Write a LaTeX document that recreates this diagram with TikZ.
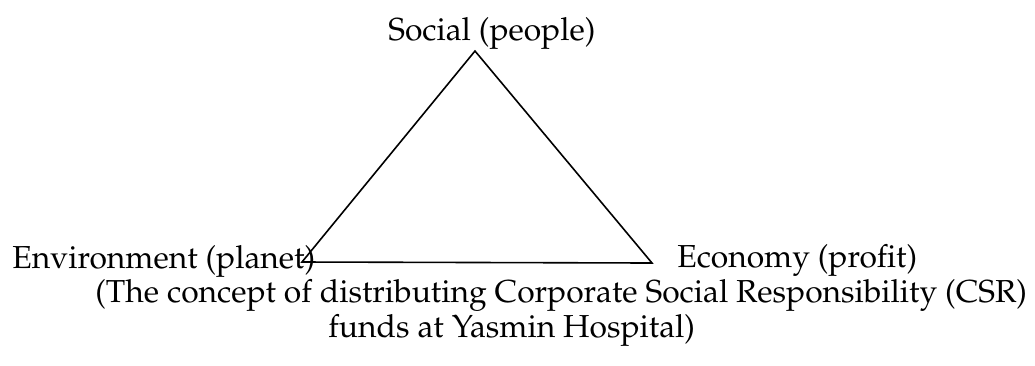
\documentclass[tikz,border=0pt]{standalone}
\usepackage[T1]{fontenc}
\usepackage{mathpazo}
\begin{document}
\begin{tikzpicture}[x=0.5bp,y=-0.5bp,
  lbl/.style={inner sep=0pt,font=\fontsize{15.9bp}{19bp}\selectfont},
  edge/.style={draw=black,line width=0.8bp,line join=miter}]
\useasboundingbox (0,0) rectangle (1035,365);
\coordinate (A) at (475,51);
\coordinate (B) at (302,262);
\coordinate (C) at (652,263);
\draw[edge] (A) -- (B) -- (C) -- cycle;
\node[lbl,anchor=base west] (soc) at (388,40) {Social (people)};
\node[lbl,anchor=base west] (env) at (12,268) {Environment (planet)};
\node[lbl,anchor=base west] (eco) at (677,267) {Economy (profit)};
\node[lbl,anchor=base west] (cap1) at (95,302) {(The concept of distributing Corporate Social Responsibility (CSR)};
\node[lbl,anchor=base west] (cap2) at (328,337) {funds at Yasmin Hospital)};
\end{tikzpicture}
\end{document}
